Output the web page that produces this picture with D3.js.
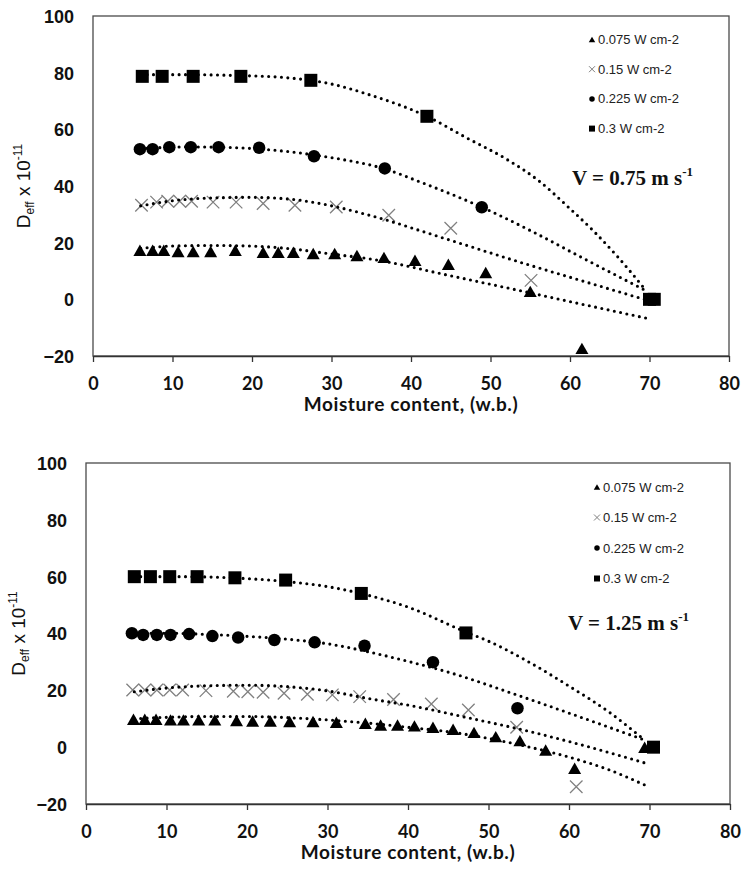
<!DOCTYPE html>
<html>
<head>
<meta charset="utf-8">
<script src="https://cdn.jsdelivr.net/npm/d3@7"></script>
<style>
  html, body { margin: 0; padding: 0; background: #fff; }
  svg { display: block; }
</style>
</head>
<body>
<svg id="chart" width="751" height="869"></svg>
<script>
// ---------------- DATA ----------------
const xTicks = [0, 10, 20, 30, 40, 50, 60, 70, 80];
const yTicks = [-20, 0, 20, 40, 60, 80, 100];
const legendLabels = ["0.075 W cm-2", "0.15 W cm-2", "0.225 W cm-2", "0.3 W cm-2"];
const velocityLabels = ["V = 0.75 m s", "V = 1.25 m s"];
const xTitle = "Moisture content, (w.b.)";

// Panel 1: V = 0.75 m s-1  (moisture, Deff)
const a075 = [[5.9,17.3],[7.5,17.3],[8.9,17.3],[10.7,16.9],[12.6,16.9],[14.8,16.9],[17.9,17.3],[21.4,16.6],[23.3,16.6],[25.2,16.6],[27.7,16.2],[30.4,16.2],[33.2,15.5],[36.6,14.8],[40.5,13.8],[44.7,12.4],[49.4,9.5],[55.0,2.8],[61.5,-17.3]];
const a015 = [[6.1,33.2],[8.0,34.3],[9.4,34.6],[10.9,34.6],[12.4,34.6],[15.1,34.3],[18.0,34.3],[21.4,33.8],[25.4,33.2],[30.6,32.6],[37.2,29.7],[45.0,25.1],[55.1,6.7]];
const a0225 = [[5.9,53.0],[7.5,53.0],[9.6,53.7],[12.3,53.7],[15.8,53.7],[20.9,53.5],[27.8,50.5],[36.7,46.2],[48.9,32.5]];
const a03 = [[6.2,78.7],[8.7,78.7],[12.6,78.7],[18.6,78.7],[27.4,77.3],[42.0,64.6],[70.0,0],[70.6,0]];

// Panel 1 trend lines
const aFit075 = [[6,18],[10,18.8],[15,19],[20,18.8],[25,17.8],[30,16],[35,14.2],[45,8.3],[52.5,3.8],[60,-0.8],[69.7,-6.7]];
const aFit015 = [[6,33],[10,34.8],[15,35.8],[20,36],[25,35.3],[30,33],[35,29.5],[44,21.7],[55,12],[60,7.8],[69.7,-0.3]];
const aFit0225 = [[6,53.2],[12,53.8],[18,53.5],[24,52.3],[30,50],[36,46.6],[42,40.5],[48.7,32.8],[55,24.3],[62,14],[69.6,3]];
const aFit03 = [[6,79.3],[12,79.3],[18,79],[24,78.3],[30,76],[35,72],[42,64.6],[47,57],[52,49.5],[56,42],[60,32],[63,24],[66,15],[69.6,3]];

// Panel 2: V = 1.25 m s-1
const b075 = [[5.9,9.8],[7.3,9.8],[8.7,9.8],[10.5,9.6],[12.1,9.6],[14.0,9.6],[16.0,9.6],[18.7,9.4],[20.7,9.2],[22.9,9.2],[25.3,9.0],[28.2,9.0],[31.1,8.8],[34.7,8.4],[36.6,7.8],[38.7,7.8],[40.8,7.5],[43.1,7.0],[45.6,6.3],[48.2,5.2],[50.9,3.7],[53.9,2.3],[57.1,-1.0],[60.7,-7.4],[69.4,0]];
const b015 = [[5.8,20.1],[7.3,20.1],[8.8,20.1],[10.4,20.1],[12.0,20.1],[14.9,19.9],[18.3,19.7],[20.1,19.5],[22.0,19.3],[24.6,19.0],[27.5,18.6],[30.6,18.4],[34.0,17.8],[38.2,16.8],[42.9,15.2],[47.5,13.1],[53.5,7.0],[60.9,-13.9]];
const b0225 = [[5.7,40.1],[7.1,39.5],[8.8,39.5],[10.5,39.5],[12.8,39.8],[15.7,39.1],[18.9,38.6],[23.4,37.7],[28.4,36.9],[34.6,35.7],[43.1,29.9],[53.6,13.7]];
const b03 = [[6.0,60.0],[8.0,60.0],[10.4,60.0],[13.8,60.0],[18.5,59.6],[24.8,58.8],[34.2,54.1],[47.2,40.2],[70.5,0]];

// Panel 2 trend lines
const bFit075 = [[6,10],[10,10.5],[15,10.8],[20,10.8],[25,10.4],[30,9.6],[35.3,8.4],[40,7],[45.6,5.2],[53.9,0.8],[60,-3.5],[65,-8],[69.4,-13.3]];
const bFit015 = [[6,19.5],[10,20.8],[15,21.6],[20,21.8],[25,21.3],[30,19.8],[35.3,17],[40,14.8],[47.7,10.2],[55,5.6],[60.1,1.9],[65,-1.9],[69.6,-5.7]];
const bFit0225 = [[5.7,40],[10,40.1],[15,39.7],[20,39],[25,38],[30,36.4],[35,33.6],[40,30.2],[45,26.4],[53.5,18.4],[60,12],[69.4,2.5]];
const bFit03 = [[6,60],[12,60],[18,59.6],[24,58.5],[30,56.5],[35,53.5],[40,49.3],[47.2,40.5],[50,37.3],[55,30],[60,21.5],[65,12.3],[69.4,2.5]];

// ---------------- LAYOUT ----------------
const panels = [
  { left: 93, right: 729, top: 16, bottom: 356, series: [a075, a015, a0225, a03], fits: [aFit075, aFit015, aFit0225, aFit03],
    vLabel: velocityLabels[0], vx: 572, vy: 185, legX: 592, legTextX: 598, legY: 44, legStep: 29.7, yLabX: 30 },
  { left: 86, right: 730, top: 463, bottom: 804, series: [b075, b015, b0225, b03], fits: [bFit075, bFit015, bFit0225, bFit03],
    vLabel: velocityLabels[1], vx: 568, vy: 630, legX: 597, legTextX: 603, legY: 491.5, legStep: 30.5, yLabX: 25 }
];

const svg = d3.select("#chart");
const kinds = ["tri", "cross", "circle", "square"];

function markerPath(kind, s) {
  if (kind === "tri") {
    const w = s, h = s * 0.88;
    return `M0,${-h/2}L${w/2},${h/2}L${-w/2},${h/2}Z`;
  }
  if (kind === "cross") {
    const r = s / 2;
    return `M${-r},${-r}L${r},${r}M${-r},${r}L${r},${-r}`;
  }
  if (kind === "square") {
    const r = s / 2;
    return `M${-r},${-r}H${r}V${r}H${-r}Z`;
  }
  return d3.symbol(d3.symbolCircle, Math.PI * (s/2) * (s/2))();
}

function styleMarker(sel, kind, thin) {
  if (kind === "cross") {
    sel.attr("fill", "none").attr("stroke", "#808080").attr("stroke-width", thin ? 1 : 1.3);
  } else {
    sel.attr("fill", "#000").attr("stroke", "none");
  }
}

const markerSize = { tri: 13, cross: 12.5, circle: 12.5, square: 13 };
const legendSize = { tri: 6.5, cross: 6, circle: 5.5, square: 6 };

panels.forEach(p => {
  const g = svg.append("g");
  const x = d3.scaleLinear().domain([0, 80]).range([p.left, p.right]);
  const y = d3.scaleLinear().domain([-20, 100]).range([p.bottom, p.top]);

  g.append("rect")
    .attr("x", p.left).attr("y", p.top)
    .attr("width", p.right - p.left).attr("height", p.bottom - p.top)
    .attr("fill", "none").attr("stroke", "#4a4a4a").attr("stroke-width", 1.3);

  const ya = g.append("g").attr("transform", `translate(${p.left},0)`)
    .call(d3.axisLeft(y).tickValues(yTicks).tickSize(0).tickPadding(19).tickFormat(d3.format("d")));
  ya.select(".domain").remove();
  ya.selectAll("text")
    .attr("font-family", "'Liberation Sans', Arial, sans-serif")
    .attr("font-weight", "bold").attr("font-size", 18).attr("fill", "#111")
    .attr("dy", "0.36em");

  const xa = g.append("g").attr("transform", `translate(0,${p.bottom})`)
    .call(d3.axisBottom(x).tickValues(xTicks).tickSize(6).tickSizeOuter(0).tickPadding(15).tickFormat(d3.format("d")));
  xa.select(".domain").attr("stroke", "#333").attr("stroke-width", 1.3);
  xa.selectAll(".tick line").attr("stroke", "#333").attr("stroke-width", 1.3);
  xa.selectAll("text")
    .attr("font-family", "Lato, 'Open Sans', sans-serif")
    .attr("font-weight", "bold").attr("font-size", 18).attr("fill", "#111");

  g.append("text")
    .attr("x", (p.left + p.right) / 2).attr("y", p.bottom + 55)
    .attr("text-anchor", "middle")
    .attr("font-family", "Lato, 'Open Sans', sans-serif")
    .attr("font-weight", "bold").attr("font-size", 19).attr("letter-spacing", 0.6).attr("fill", "#111")
    .text(xTitle);

  const yt = g.append("text")
    .attr("transform", `translate(${p.yLabX},${(p.top + p.bottom) / 2}) rotate(-90)`)
    .attr("text-anchor", "middle")
    .attr("font-family", "'Liberation Sans', Arial, sans-serif")
    .attr("font-size", 19).attr("fill", "#111");
  yt.append("tspan").text("D");
  yt.append("tspan").attr("font-size", 12).attr("dy", 4).text("eff");
  yt.append("tspan").attr("dy", -4).text(" x 10");
  yt.append("tspan").attr("font-size", 12).attr("dy", -8).text("-11");

  p.series.forEach((data, i) => {
    const kind = kinds[i];
    const m = g.append("g").selectAll("path").data(data).join("path")
      .attr("d", markerPath(kind, markerSize[kind]))
      .attr("transform", d => `translate(${x(d[0])},${y(d[1])})`);
    styleMarker(m, kind, false);
  });

  const line = d3.line().x(d => x(d[0])).y(d => y(d[1])).curve(d3.curveMonotoneX);
  p.fits.forEach(f => {
    g.append("path").attr("d", line(f))
      .attr("fill", "none").attr("stroke", "#000").attr("stroke-width", 3.1)
      .attr("stroke-linecap", "round").attr("stroke-dasharray", "0 6.4");
  });

  legendLabels.forEach((lab, i) => {
    const kind = kinds[i];
    const by = p.legY + i * p.legStep;
    const m = g.append("path")
      .attr("d", markerPath(kind, legendSize[kind]))
      .attr("transform", `translate(${p.legX},${by - 4.5})`);
    styleMarker(m, kind, true);
    g.append("text")
      .attr("x", p.legTextX).attr("y", by)
      .attr("font-family", "'Liberation Sans', Arial, sans-serif")
      .attr("font-size", 13).attr("fill", "#222")
      .text(lab);
  });

  const vt = g.append("text")
    .attr("x", p.vx).attr("y", p.vy)
    .attr("font-family", "'Liberation Serif', 'Times New Roman', serif")
    .attr("font-weight", "bold").attr("font-size", 21).attr("fill", "#111");
  vt.append("tspan").text(p.vLabel);
  vt.append("tspan").attr("font-size", 13).attr("dy", -9).text("-1");
});
</script>
</body>
</html>
